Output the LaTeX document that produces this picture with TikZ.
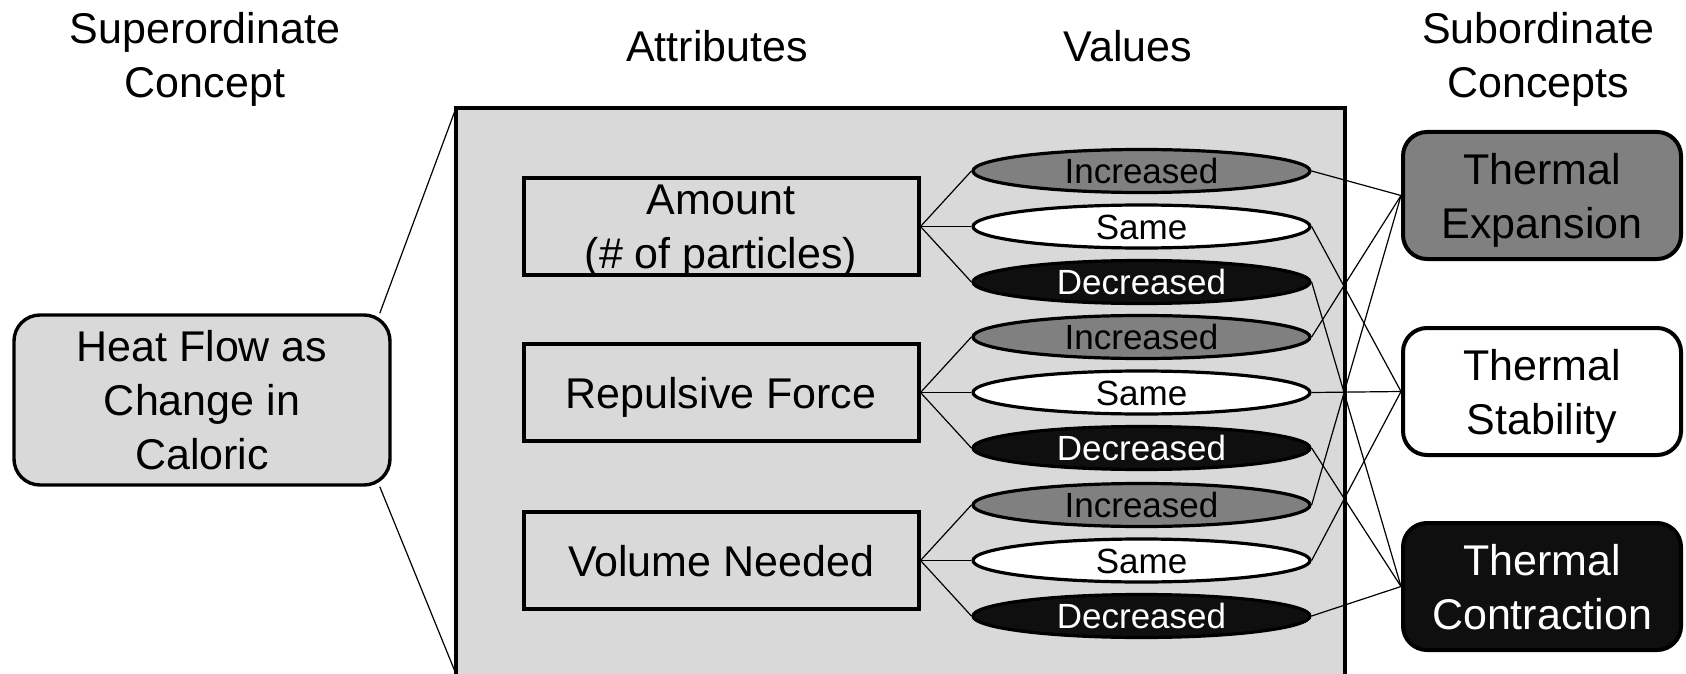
\documentclass[tikz,border=0pt]{standalone}
\usepackage{fontspec}
\setmainfont{Liberation Sans}
\usetikzlibrary{shapes.geometric}

\definecolor{panelgray}{gray}{0.85}
\definecolor{midgray}{gray}{0.5}
\definecolor{nearblack}{gray}{0.06}

\def\valX{1141.5}
\def\valGap{55.5}
\def\subX{1542}

\tikzset{
  bigfont/.style={font=\fontsize{21.5}{27}\selectfont},
  valfont/.style={font=\fontsize{17.5}{21}\selectfont},
  header/.style={align=center, bigfont},
  conn/.style={line width=0.6pt},
  superbox/.style={draw, line width=1.7pt, fill=panelgray, rounded corners=13pt,
    minimum width=188pt, minimum height=85pt, align=center, bigfont},
  attrbox/.style={draw, line width=2pt, minimum width=197.5pt, minimum height=48.5pt,
    inner sep=0pt, text depth=0pt, align=center, bigfont},
  valnode/.style={draw, ellipse, line width=1.6pt, minimum width=168.5pt, minimum height=21.5pt,
    inner sep=0pt, text height=12.5pt, text depth=0pt, valfont},
  subbox/.style={draw, line width=2pt, rounded corners=12pt, minimum width=139pt,
    minimum height=63.5pt, text depth=0pt, align=center, bigfont},
}

\begin{document}
\begin{tikzpicture}[x=0.5pt, y=-0.5pt]
  \useasboundingbox (0,0) rectangle (1686,674);
  \clip (0,0) rectangle (1686,674);

  \node[header] (hdsup) at (205,59) {Superordinate\\Concept};
  \node[header] (hdattr) at (717,46) {Attributes};
  \node[header] (hdval) at (1128,46) {Values};
  \node[header] (hdsub) at (1538,59) {Subordinate\\Concepts};

  \coordinate (paneltl) at (456,108);
  \coordinate (panelbl) at (456,674);
  \draw[fill=panelgray, line width=2.2pt] (paneltl) rectangle (1345,690);

  \node[superbox] (heat) at (202,400) {Heat Flow as\\Change in\\Caloric};
  \draw[conn] (heat.26) -- (paneltl);
  \draw[conn] (heat.-26) -- (panelbl);

  \node[attrbox] (a1) at (721,226.5) {Amount\\(\# of particles)};
  \node[attrbox] (a2) at (721,392.5) {Repulsive Force};
  \node[attrbox] (a3) at (721,560.5) {Volume Needed};

  \node[subbox, fill=midgray] (exp) at (\subX,195.5) {Thermal\\Expansion};
  \node[subbox, fill=white] (stab) at (\subX,391.5) {Thermal\\Stability};
  \node[subbox, fill=nearblack, text=white] (contr) at (\subX,586.5) {Thermal\\Contraction};

  \foreach \i/\y in {1/226.5, 2/392.5, 3/560.5} {
      \node[valnode, fill=midgray] (v-\i-1) at (\valX,\y-\valGap) {Increased};
      \node[valnode, fill=white] (v-\i-2) at (\valX,\y) {Same};
      \node[valnode, fill=nearblack, text=white] (v-\i-3) at (\valX,\y+\valGap) {Decreased};
      \foreach \j/\s in {1/exp, 2/stab, 3/contr} {
          \draw[conn] (a\i.east) -- (v-\i-\j.west);
          \draw[conn] (v-\i-\j.east) -- (\s.west);
      }
  }
\end{tikzpicture}
\end{document}
